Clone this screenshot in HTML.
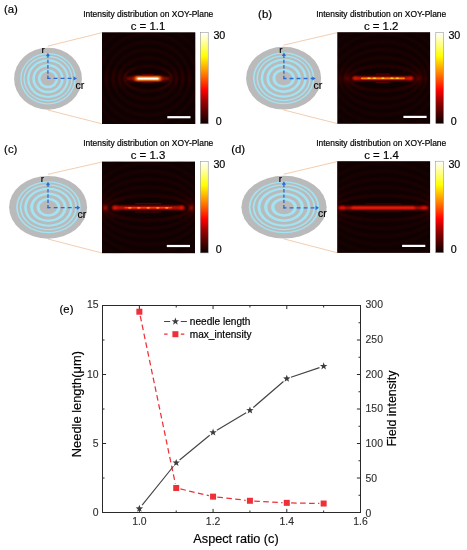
<!DOCTYPE html>
<html><head><meta charset="utf-8"><title>Figure</title>
<style>
html,body{margin:0;padding:0;background:#fff;}
body{width:467px;height:550px;overflow:hidden;}
svg{display:block;}
text{font-family:"Liberation Sans",sans-serif;fill:#000;stroke:#000;stroke-width:0.18px;}
text.tl{fill:#2e2e2e;stroke:#2e2e2e;stroke-width:0.12px;}
</style></head><body>
<svg width="467" height="550" viewBox="0 0 467 550">
<defs>
<linearGradient id="hot" x1="0" y1="1" x2="0" y2="0">
<stop offset="0" stop-color="#0a0000"/>
<stop offset="0.12" stop-color="#500000"/>
<stop offset="0.25" stop-color="#a00000"/>
<stop offset="0.37" stop-color="#ff0000"/>
<stop offset="0.55" stop-color="#ff8000"/>
<stop offset="0.74" stop-color="#ffff00"/>
<stop offset="0.88" stop-color="#ffff90"/>
<stop offset="1" stop-color="#ffffff"/>
</linearGradient>
<linearGradient id="band" x1="0" y1="0" x2="0" y2="1"><stop offset="0" stop-color="#000"/><stop offset="0.5" stop-color="#fff"/><stop offset="1" stop-color="#000"/></linearGradient>
<filter id="b1" x="-20%" y="-20%" width="140%" height="140%"><feGaussianBlur stdDeviation="0.8"/></filter>
<filter id="b2" x="-50%" y="-300%" width="200%" height="700%"><feGaussianBlur stdDeviation="1.6"/></filter>
<filter id="b3" x="-50%" y="-300%" width="200%" height="700%"><feGaussianBlur stdDeviation="0.7"/></filter>
<filter id="b4" x="-50%" y="-300%" width="200%" height="700%"><feGaussianBlur stdDeviation="0.9"/></filter>
<filter id="b05"><feGaussianBlur stdDeviation="0.45"/></filter>
</defs>
<rect width="467" height="550" fill="#fff"/>

<g id="panel0">
<text x="3.9" y="13.4" font-size="11.4">(a)</text>
<text x="148.25" y="16.7" font-size="8.45" text-anchor="middle" fill="#111">Intensity distribution on XOY-Plane</text>
<text x="148" y="29.9" font-size="11.4" text-anchor="middle">c = 1.1</text>
<line x1="47.8" y1="46.1" x2="102.0" y2="32.699999999999996" stroke="#f0c09a" stroke-width="0.8"/>
<line x1="47.8" y1="110.0" x2="102.0" y2="123.8" stroke="#f0c09a" stroke-width="0.8"/>
<g filter="url(#b05)"><ellipse cx="48.0" cy="78.7" rx="33.9" ry="31.0" fill="#bababa"/><ellipse cx="48.0" cy="78.7" rx="27.80" ry="25.80" fill="#a2e3f4"/><ellipse cx="48.0" cy="78.7" rx="26.41" ry="24.51" fill="#bababa"/><ellipse cx="48.0" cy="78.7" rx="24.60" ry="22.83" fill="#a2e3f4"/><ellipse cx="48.0" cy="78.7" rx="23.21" ry="21.54" fill="#bababa"/><ellipse cx="48.0" cy="78.7" rx="20.91" ry="19.40" fill="#a2e3f4"/><ellipse cx="48.0" cy="78.7" rx="18.57" ry="17.23" fill="#bababa"/><ellipse cx="48.0" cy="78.7" rx="15.71" ry="14.58" fill="#a2e3f4"/><ellipse cx="48.0" cy="78.7" rx="13.07" ry="12.13" fill="#bababa"/><ellipse cx="48.0" cy="78.7" rx="10.20" ry="9.47" fill="#a2e3f4"/><ellipse cx="48.0" cy="78.7" rx="7.51" ry="6.97" fill="#bababa"/></g>
<line x1="47.9" y1="79.0" x2="47.9" y2="55.3" stroke="#2b6ad2" stroke-width="1.3" stroke-dasharray="3.4 1.9"/><path d="M47.9 52.8 l-2.1 3.4 h4.2z" fill="#2b6ad2"/><line x1="47.3" y1="78.4" x2="74.4" y2="78.4" stroke="#2b6ad2" stroke-width="1.3" stroke-dasharray="3.9 3.1" stroke-dashoffset="0.7"/><path d="M76.9 78.4 l-3.4 -2.1 v4.2z" fill="#2b6ad2"/>
<text x="41.4" y="53.0" font-size="9.8">r</text>
<text x="75.5" y="88.5" font-size="10.5">cr</text>
<clipPath id="cp0"><rect x="102.0" y="32.3" width="93.30000000000001" height="91.7"/></clipPath><rect x="102.0" y="32.3" width="93.30000000000001" height="91.7" fill="#0f0101"/><g clip-path="url(#cp0)"><g filter="url(#b1)" fill="none" stroke="#4a0a08"><ellipse cx="148.0" cy="78.6" rx="23.6" ry="12.6" stroke-width="2.6" stroke-opacity="0.36"/><ellipse cx="148.0" cy="78.6" rx="28.7" ry="20.6" stroke-width="2.6" stroke-opacity="0.32"/><ellipse cx="148.0" cy="78.6" rx="35.0" ry="28.7" stroke-width="2.6" stroke-opacity="0.29"/><ellipse cx="148.0" cy="78.6" rx="41.8" ry="36.7" stroke-width="2.6" stroke-opacity="0.25"/><ellipse cx="148.0" cy="78.6" rx="49.1" ry="44.8" stroke-width="2.6" stroke-opacity="0.22"/><ellipse cx="148.0" cy="78.6" rx="56.5" ry="52.8" stroke-width="2.6" stroke-opacity="0.18"/><ellipse cx="148.0" cy="78.6" rx="64.0" ry="60.8" stroke-width="2.6" stroke-opacity="0.14"/></g><mask id="mk0" maskUnits="userSpaceOnUse" x="102.0" y="32.3" width="93.30000000000001" height="91.7"><rect x="102.0" y="64.6" width="93.30000000000001" height="28" fill="url(#band)"/></mask><g mask="url(#mk0)"><g filter="url(#b1)" fill="none" stroke="#7a100a"><ellipse cx="148.0" cy="78.6" rx="23.6" ry="12.6" stroke-width="2.6" stroke-opacity="0.36"/><ellipse cx="148.0" cy="78.6" rx="28.7" ry="20.6" stroke-width="2.6" stroke-opacity="0.32"/><ellipse cx="148.0" cy="78.6" rx="35.0" ry="28.7" stroke-width="2.6" stroke-opacity="0.29"/><ellipse cx="148.0" cy="78.6" rx="41.8" ry="36.7" stroke-width="2.6" stroke-opacity="0.25"/><ellipse cx="148.0" cy="78.6" rx="49.1" ry="44.8" stroke-width="2.6" stroke-opacity="0.22"/><ellipse cx="148.0" cy="78.6" rx="56.5" ry="52.8" stroke-width="2.6" stroke-opacity="0.18"/><ellipse cx="148.0" cy="78.6" rx="64.0" ry="60.8" stroke-width="2.6" stroke-opacity="0.14"/></g></g><rect x="126.0" y="76.90" width="44.0" height="3.4" rx="1.7" fill="#900800" fill-opacity="0.95" filter="url(#b2)"/><rect x="132.0" y="76.10" width="32.0" height="5.0" rx="2.5" fill="#a01000" fill-opacity="0.9" filter="url(#b2)"/><path d="M142.0 74.39999999999999 H154.0 M142.0 82.8 H154.0" stroke="#6a0804" stroke-opacity="0.7" stroke-width="1.1" fill="none" filter="url(#b3)"/><rect x="134.6" y="76.70" width="26.8" height="3.8" rx="1.9" fill="#ff5000" fill-opacity="1" filter="url(#b4)"/><rect x="136.0" y="77.20" width="24.0" height="2.8" rx="1.4" fill="#ffd840" fill-opacity="1" filter="url(#b4)"/><rect x="137.5" y="77.75" width="21.0" height="1.7" rx="0.85" fill="#ffffee" fill-opacity="1" filter="url(#b3)"/></g><rect x="167.3" y="116.10000000000001" width="23.19999999999999" height="2.2" fill="#fff"/>
<rect x="200.3" y="32.5" width="7.899999999999977" height="91.3" fill="url(#hot)" stroke="#888" stroke-width="0.5"/>
<text x="213.4" y="39.3" font-size="10.7">30</text>
<text x="215.7" y="124.8" font-size="10.7">0</text>
</g>
<g id="panel1">
<text x="258.1" y="17.9" font-size="11.4">(b)</text>
<text x="381.2" y="16.7" font-size="8.45" text-anchor="middle" fill="#111">Intensity distribution on XOY-Plane</text>
<text x="381.2" y="29.9" font-size="11.4" text-anchor="middle">c = 1.2</text>
<line x1="283.40000000000003" y1="45.2" x2="337.3" y2="32.6" stroke="#f0c09a" stroke-width="0.8"/>
<line x1="283.40000000000003" y1="109.89999999999999" x2="337.3" y2="123.6" stroke="#f0c09a" stroke-width="0.8"/>
<g filter="url(#b05)"><ellipse cx="283.6" cy="78.2" rx="37.5" ry="31.4" fill="#bababa"/><ellipse cx="283.7" cy="78.2" rx="30.70" ry="26.00" fill="#a2e3f4"/><ellipse cx="283.7" cy="78.2" rx="29.16" ry="24.70" fill="#bababa"/><ellipse cx="283.7" cy="78.2" rx="27.17" ry="23.01" fill="#a2e3f4"/><ellipse cx="283.7" cy="78.2" rx="25.63" ry="21.71" fill="#bababa"/><ellipse cx="283.7" cy="78.2" rx="23.09" ry="19.55" fill="#a2e3f4"/><ellipse cx="283.7" cy="78.2" rx="20.51" ry="17.37" fill="#bababa"/><ellipse cx="283.7" cy="78.2" rx="17.35" ry="14.69" fill="#a2e3f4"/><ellipse cx="283.7" cy="78.2" rx="14.43" ry="12.22" fill="#bababa"/><ellipse cx="283.7" cy="78.2" rx="11.27" ry="9.54" fill="#a2e3f4"/><ellipse cx="283.7" cy="78.2" rx="8.29" ry="7.02" fill="#bababa"/></g>
<line x1="283.9" y1="79.1" x2="283.9" y2="55.0" stroke="#2b6ad2" stroke-width="1.3" stroke-dasharray="3.4 1.9"/><path d="M283.9 52.5 l-2.1 3.4 h4.2z" fill="#2b6ad2"/><line x1="283.29999999999995" y1="78.5" x2="313.2" y2="78.5" stroke="#2b6ad2" stroke-width="1.3" stroke-dasharray="3.9 3.1" stroke-dashoffset="0.7"/><path d="M315.7 78.5 l-3.4 -2.1 v4.2z" fill="#2b6ad2"/>
<text x="279.2" y="53.2" font-size="9.8">r</text>
<text x="313.4" y="88.8" font-size="10.5">cr</text>
<clipPath id="cp1"><rect x="337.3" y="32.2" width="92.80000000000001" height="91.6"/></clipPath><rect x="337.3" y="32.2" width="92.80000000000001" height="91.6" fill="#0f0101"/><g clip-path="url(#cp1)"><g filter="url(#b1)" fill="none" stroke="#4a0a08"><ellipse cx="382.9" cy="78.3" rx="34.4" ry="12.6" stroke-width="2.6" stroke-opacity="0.38"/><ellipse cx="382.9" cy="78.3" rx="38.1" ry="20.6" stroke-width="2.6" stroke-opacity="0.34"/><ellipse cx="382.9" cy="78.3" rx="43.0" ry="28.7" stroke-width="2.6" stroke-opacity="0.30"/><ellipse cx="382.9" cy="78.3" rx="48.7" ry="36.7" stroke-width="2.6" stroke-opacity="0.27"/><ellipse cx="382.9" cy="78.3" rx="55.1" ry="44.8" stroke-width="2.6" stroke-opacity="0.23"/><ellipse cx="382.9" cy="78.3" rx="61.7" ry="52.8" stroke-width="2.6" stroke-opacity="0.19"/><ellipse cx="382.9" cy="78.3" rx="68.7" ry="60.8" stroke-width="2.6" stroke-opacity="0.15"/></g><mask id="mk1" maskUnits="userSpaceOnUse" x="337.3" y="32.2" width="92.80000000000001" height="91.6"><rect x="337.3" y="64.3" width="92.80000000000001" height="28" fill="url(#band)"/></mask><g mask="url(#mk1)"><g filter="url(#b1)" fill="none" stroke="#7a100a"><ellipse cx="382.9" cy="78.3" rx="34.4" ry="12.6" stroke-width="2.6" stroke-opacity="0.38"/><ellipse cx="382.9" cy="78.3" rx="38.1" ry="20.6" stroke-width="2.6" stroke-opacity="0.34"/><ellipse cx="382.9" cy="78.3" rx="43.0" ry="28.7" stroke-width="2.6" stroke-opacity="0.30"/><ellipse cx="382.9" cy="78.3" rx="48.7" ry="36.7" stroke-width="2.6" stroke-opacity="0.27"/><ellipse cx="382.9" cy="78.3" rx="55.1" ry="44.8" stroke-width="2.6" stroke-opacity="0.23"/><ellipse cx="382.9" cy="78.3" rx="61.7" ry="52.8" stroke-width="2.6" stroke-opacity="0.19"/><ellipse cx="382.9" cy="78.3" rx="68.7" ry="60.8" stroke-width="2.6" stroke-opacity="0.15"/></g></g><ellipse cx="346.9" cy="78.3" rx="2.0" ry="2.4" fill="#7a0600" fill-opacity="0.7" filter="url(#b2)"/><ellipse cx="418.9" cy="78.3" rx="2.0" ry="2.4" fill="#7a0600" fill-opacity="0.7" filter="url(#b2)"/><rect x="351.9" y="76.60" width="62.0" height="3.4" rx="1.7" fill="#8a0700" fill-opacity="0.95" filter="url(#b2)"/><path d="M375.9 74.1 H389.9 M375.9 82.5 H389.9" stroke="#6a0804" stroke-opacity="0.7" stroke-width="1.1" fill="none" filter="url(#b3)"/><ellipse cx="354.9" cy="78.3" rx="2.4" ry="1.7" fill="#d81400" fill-opacity="1" filter="url(#b4)"/><ellipse cx="410.9" cy="78.3" rx="2.4" ry="1.7" fill="#d81400" fill-opacity="1" filter="url(#b4)"/><rect x="354.4" y="77.15" width="57.0" height="2.3" rx="1.15" fill="#e01a00" fill-opacity="1" filter="url(#b4)"/><rect x="360.9" y="77.45" width="44.0" height="1.7" rx="0.85" fill="#ff7800" fill-opacity="1" filter="url(#b3)"/><ellipse cx="368.9" cy="78.3" rx="1.6" ry="0.8" fill="#ffd030" fill-opacity="1" filter="url(#b3)"/><ellipse cx="374.4" cy="78.3" rx="1.6" ry="0.8" fill="#ffd030" fill-opacity="1" filter="url(#b3)"/><ellipse cx="382.9" cy="78.3" rx="1.6" ry="0.8" fill="#ffd030" fill-opacity="1" filter="url(#b3)"/><ellipse cx="391.9" cy="78.3" rx="1.6" ry="0.8" fill="#ffd030" fill-opacity="1" filter="url(#b3)"/><ellipse cx="397.4" cy="78.3" rx="1.6" ry="0.8" fill="#ffd030" fill-opacity="1" filter="url(#b3)"/></g><rect x="403.4" y="115.80000000000001" width="23.200000000000045" height="2.2" fill="#fff"/>
<rect x="435.8" y="32.4" width="7.800000000000011" height="91.19999999999999" fill="url(#hot)" stroke="#888" stroke-width="0.5"/>
<text x="448.4" y="39.199999999999996" font-size="10.7">30</text>
<text x="450.7" y="124.6" font-size="10.7">0</text>
</g>
<g id="panel2">
<text x="4.1" y="153.0" font-size="11.4">(c)</text>
<text x="148.25" y="146" font-size="8.45" text-anchor="middle" fill="#111">Intensity distribution on XOY-Plane</text>
<text x="148" y="158.9" font-size="11.4" text-anchor="middle">c = 1.3</text>
<line x1="47.9" y1="174.3" x2="102.0" y2="162.0" stroke="#f0c09a" stroke-width="0.8"/>
<line x1="47.9" y1="239.00000000000003" x2="102.0" y2="253.0" stroke="#f0c09a" stroke-width="0.8"/>
<g filter="url(#b05)"><ellipse cx="48.1" cy="207.3" rx="39.0" ry="31.4" fill="#bababa"/><ellipse cx="48.4" cy="207.3" rx="32.30" ry="26.00" fill="#a2e3f4"/><ellipse cx="48.4" cy="207.3" rx="30.68" ry="24.70" fill="#bababa"/><ellipse cx="48.4" cy="207.3" rx="28.59" ry="23.01" fill="#a2e3f4"/><ellipse cx="48.4" cy="207.3" rx="26.97" ry="21.71" fill="#bababa"/><ellipse cx="48.4" cy="207.3" rx="24.29" ry="19.55" fill="#a2e3f4"/><ellipse cx="48.4" cy="207.3" rx="21.58" ry="17.37" fill="#bababa"/><ellipse cx="48.4" cy="207.3" rx="18.25" ry="14.69" fill="#a2e3f4"/><ellipse cx="48.4" cy="207.3" rx="15.18" ry="12.22" fill="#bababa"/><ellipse cx="48.4" cy="207.3" rx="11.85" ry="9.54" fill="#a2e3f4"/><ellipse cx="48.4" cy="207.3" rx="8.72" ry="7.02" fill="#bababa"/></g>
<line x1="48.0" y1="208.29999999999998" x2="48.0" y2="184.3" stroke="#2b6ad2" stroke-width="1.3" stroke-dasharray="3.4 1.9"/><path d="M48.0 181.8 l-2.1 3.4 h4.2z" fill="#2b6ad2"/><line x1="47.4" y1="207.7" x2="77.8" y2="207.7" stroke="#2b6ad2" stroke-width="1.3" stroke-dasharray="3.9 3.1" stroke-dashoffset="0.7"/><path d="M80.3 207.7 l-3.4 -2.1 v4.2z" fill="#2b6ad2"/>
<text x="40.7" y="182.3" font-size="9.8">r</text>
<text x="77.6" y="217.8" font-size="10.5">cr</text>
<clipPath id="cp2"><rect x="102.0" y="161.6" width="93.0" height="91.6"/></clipPath><rect x="102.0" y="161.6" width="93.0" height="91.6" fill="#0f0101"/><g clip-path="url(#cp2)"><g filter="url(#b1)" fill="none" stroke="#4a0a08"><ellipse cx="148.3" cy="207.8" rx="41.9" ry="12.6" stroke-width="2.6" stroke-opacity="0.38"/><ellipse cx="148.3" cy="207.8" rx="45.0" ry="20.6" stroke-width="2.6" stroke-opacity="0.34"/><ellipse cx="148.3" cy="207.8" rx="49.2" ry="28.7" stroke-width="2.6" stroke-opacity="0.30"/><ellipse cx="148.3" cy="207.8" rx="54.3" ry="36.7" stroke-width="2.6" stroke-opacity="0.27"/><ellipse cx="148.3" cy="207.8" rx="60.1" ry="44.8" stroke-width="2.6" stroke-opacity="0.23"/><ellipse cx="148.3" cy="207.8" rx="66.2" ry="52.8" stroke-width="2.6" stroke-opacity="0.19"/><ellipse cx="148.3" cy="207.8" rx="72.8" ry="60.8" stroke-width="2.6" stroke-opacity="0.15"/></g><mask id="mk2" maskUnits="userSpaceOnUse" x="102.0" y="161.6" width="93.0" height="91.6"><rect x="102.0" y="193.8" width="93.0" height="28" fill="url(#band)"/></mask><g mask="url(#mk2)"><g filter="url(#b1)" fill="none" stroke="#7a100a"><ellipse cx="148.3" cy="207.8" rx="41.9" ry="12.6" stroke-width="2.6" stroke-opacity="0.38"/><ellipse cx="148.3" cy="207.8" rx="45.0" ry="20.6" stroke-width="2.6" stroke-opacity="0.34"/><ellipse cx="148.3" cy="207.8" rx="49.2" ry="28.7" stroke-width="2.6" stroke-opacity="0.30"/><ellipse cx="148.3" cy="207.8" rx="54.3" ry="36.7" stroke-width="2.6" stroke-opacity="0.27"/><ellipse cx="148.3" cy="207.8" rx="60.1" ry="44.8" stroke-width="2.6" stroke-opacity="0.23"/><ellipse cx="148.3" cy="207.8" rx="66.2" ry="52.8" stroke-width="2.6" stroke-opacity="0.19"/><ellipse cx="148.3" cy="207.8" rx="72.8" ry="60.8" stroke-width="2.6" stroke-opacity="0.15"/></g></g><ellipse cx="105.3" cy="207.8" rx="2.2" ry="2.6" fill="#a80a00" fill-opacity="0.95" filter="url(#b2)"/><ellipse cx="191.3" cy="207.8" rx="2.2" ry="2.6" fill="#a80a00" fill-opacity="0.95" filter="url(#b2)"/><rect x="111.3" y="206.10" width="74.0" height="3.4" rx="1.7" fill="#800600" fill-opacity="0.95" filter="url(#b2)"/><path d="M135.3 203.60000000000002 H161.3 M135.3 212.0 H161.3" stroke="#6a0804" stroke-opacity="0.7" stroke-width="1.1" fill="none" filter="url(#b3)"/><ellipse cx="114.8" cy="207.8" rx="2.6" ry="2.0" fill="#e81600" fill-opacity="1" filter="url(#b4)"/><ellipse cx="181.8" cy="207.8" rx="2.6" ry="2.0" fill="#e81600" fill-opacity="1" filter="url(#b4)"/><rect x="114.3" y="206.55" width="68.0" height="2.5" rx="1.25" fill="#d81200" fill-opacity="1" filter="url(#b4)"/><rect x="124.3" y="207.00" width="48.0" height="1.6" rx="0.8" fill="#f83400" fill-opacity="1" filter="url(#b3)"/><ellipse cx="129.8" cy="207.8" rx="1.8" ry="0.9" fill="#ff8a1c" fill-opacity="1" filter="url(#b3)"/><ellipse cx="138.8" cy="207.8" rx="1.8" ry="0.9" fill="#ff8a1c" fill-opacity="1" filter="url(#b3)"/><ellipse cx="148.3" cy="207.8" rx="1.8" ry="0.9" fill="#ff8a1c" fill-opacity="1" filter="url(#b3)"/><ellipse cx="157.8" cy="207.8" rx="1.8" ry="0.9" fill="#ff8a1c" fill-opacity="1" filter="url(#b3)"/><ellipse cx="166.8" cy="207.8" rx="1.8" ry="0.9" fill="#ff8a1c" fill-opacity="1" filter="url(#b3)"/></g><rect x="166.8" y="244.9" width="23.19999999999999" height="2.2" fill="#fff"/>
<rect x="200.3" y="161.4" width="7.899999999999977" height="91.5" fill="url(#hot)" stroke="#888" stroke-width="0.5"/>
<text x="213.4" y="167.8" font-size="10.7">30</text>
<text x="215.7" y="253.0" font-size="10.7">0</text>
</g>
<g id="panel3">
<text x="231.2" y="153.0" font-size="11.4">(d)</text>
<text x="381.2" y="146" font-size="8.45" text-anchor="middle" fill="#111">Intensity distribution on XOY-Plane</text>
<text x="381.5" y="158.9" font-size="11.4" text-anchor="middle">c = 1.4</text>
<line x1="283.8" y1="174.2" x2="337.2" y2="161.6" stroke="#f0c09a" stroke-width="0.8"/>
<line x1="283.8" y1="238.9" x2="337.2" y2="252.70000000000002" stroke="#f0c09a" stroke-width="0.8"/>
<g filter="url(#b05)"><ellipse cx="284.0" cy="207.2" rx="42.6" ry="31.4" fill="#bababa"/><ellipse cx="284.0" cy="207.2" rx="35.30" ry="26.00" fill="#a2e3f4"/><ellipse cx="284.0" cy="207.2" rx="33.53" ry="24.70" fill="#bababa"/><ellipse cx="284.0" cy="207.2" rx="31.24" ry="23.01" fill="#a2e3f4"/><ellipse cx="284.0" cy="207.2" rx="29.48" ry="21.71" fill="#bababa"/><ellipse cx="284.0" cy="207.2" rx="26.55" ry="19.55" fill="#a2e3f4"/><ellipse cx="284.0" cy="207.2" rx="23.58" ry="17.37" fill="#bababa"/><ellipse cx="284.0" cy="207.2" rx="19.94" ry="14.69" fill="#a2e3f4"/><ellipse cx="284.0" cy="207.2" rx="16.59" ry="12.22" fill="#bababa"/><ellipse cx="284.0" cy="207.2" rx="12.96" ry="9.54" fill="#a2e3f4"/><ellipse cx="284.0" cy="207.2" rx="9.53" ry="7.02" fill="#bababa"/></g>
<line x1="283.9" y1="208.4" x2="283.9" y2="183.8" stroke="#2b6ad2" stroke-width="1.3" stroke-dasharray="3.4 1.9"/><path d="M283.9 181.3 l-2.1 3.4 h4.2z" fill="#2b6ad2"/><line x1="283.29999999999995" y1="207.8" x2="316.5" y2="207.8" stroke="#2b6ad2" stroke-width="1.3" stroke-dasharray="3.9 3.1" stroke-dashoffset="0.7"/><path d="M319 207.8 l-3.4 -2.1 v4.2z" fill="#2b6ad2"/>
<text x="278.7" y="182" font-size="9.8">r</text>
<text x="318" y="216.9" font-size="10.5">cr</text>
<clipPath id="cp3"><rect x="337.2" y="161.2" width="92.90000000000003" height="91.70000000000002"/></clipPath><rect x="337.2" y="161.2" width="92.90000000000003" height="91.70000000000002" fill="#0f0101"/><g clip-path="url(#cp3)"><g filter="url(#b1)" fill="none" stroke="#4a0a08"><ellipse cx="383.2" cy="207.8" rx="49.6" ry="12.6" stroke-width="2.6" stroke-opacity="0.34"/><ellipse cx="383.2" cy="207.8" rx="52.2" ry="20.6" stroke-width="2.6" stroke-opacity="0.31"/><ellipse cx="383.2" cy="207.8" rx="55.9" ry="28.7" stroke-width="2.6" stroke-opacity="0.27"/><ellipse cx="383.2" cy="207.8" rx="60.4" ry="36.7" stroke-width="2.6" stroke-opacity="0.24"/><ellipse cx="383.2" cy="207.8" rx="65.7" ry="44.8" stroke-width="2.6" stroke-opacity="0.20"/><ellipse cx="383.2" cy="207.8" rx="71.4" ry="52.8" stroke-width="2.6" stroke-opacity="0.17"/><ellipse cx="383.2" cy="207.8" rx="77.5" ry="60.8" stroke-width="2.6" stroke-opacity="0.14"/></g><mask id="mk3" maskUnits="userSpaceOnUse" x="337.2" y="161.2" width="92.90000000000003" height="91.70000000000002"><rect x="337.2" y="193.8" width="92.90000000000003" height="28" fill="url(#band)"/></mask><g mask="url(#mk3)"><g filter="url(#b1)" fill="none" stroke="#7a100a"><ellipse cx="383.2" cy="207.8" rx="49.6" ry="12.6" stroke-width="2.6" stroke-opacity="0.34"/><ellipse cx="383.2" cy="207.8" rx="52.2" ry="20.6" stroke-width="2.6" stroke-opacity="0.31"/><ellipse cx="383.2" cy="207.8" rx="55.9" ry="28.7" stroke-width="2.6" stroke-opacity="0.27"/><ellipse cx="383.2" cy="207.8" rx="60.4" ry="36.7" stroke-width="2.6" stroke-opacity="0.24"/><ellipse cx="383.2" cy="207.8" rx="65.7" ry="44.8" stroke-width="2.6" stroke-opacity="0.20"/><ellipse cx="383.2" cy="207.8" rx="71.4" ry="52.8" stroke-width="2.6" stroke-opacity="0.17"/><ellipse cx="383.2" cy="207.8" rx="77.5" ry="60.8" stroke-width="2.6" stroke-opacity="0.14"/></g></g><rect x="336.2" y="206.15" width="94.0" height="3.3" rx="1.65" fill="#780500" fill-opacity="0.95" filter="url(#b2)"/><path d="M365.2 203.8 H401.2 M365.2 211.8 H401.2" stroke="#6a0804" stroke-opacity="0.5" stroke-width="1.1" fill="none" filter="url(#b3)"/><rect x="339.2" y="206.70" width="88.0" height="2.2" rx="1.1" fill="#c00a00" fill-opacity="1" filter="url(#b4)"/><ellipse cx="342.2" cy="207.8" rx="3.5" ry="1.6" fill="#e01000" fill-opacity="1" filter="url(#b4)"/><ellipse cx="424.2" cy="207.8" rx="3.5" ry="1.6" fill="#e01000" fill-opacity="1" filter="url(#b4)"/><rect x="351.2" y="206.70" width="64.0" height="2.2" rx="1.1" fill="#ff200c" fill-opacity="1" filter="url(#b4)"/></g><rect x="402.1" y="244.8" width="23.19999999999999" height="2.2" fill="#fff"/>
<rect x="435.7" y="161.2" width="7.800000000000011" height="91.5" fill="url(#hot)" stroke="#888" stroke-width="0.5"/>
<text x="448.4" y="167.6" font-size="10.7">30</text>
<text x="450.7" y="252.79999999999998" font-size="10.7">0</text>
</g>
<g id="chart">
<text x="59.6" y="313.3" font-size="11.3" fill="#222">(e)</text>
<rect x="102.5" y="305.5" width="258.0" height="207.0" fill="none" stroke="#2a2a2a" stroke-width="1"/>
<path d="M139.36 512.5 v-3.6 M139.36 305.5 v3.6 M176.21 512.5 v-2.0 M176.21 305.5 v2.0 M213.07 512.5 v-3.6 M213.07 305.5 v3.6 M249.93 512.5 v-2.0 M249.93 305.5 v2.0 M286.79 512.5 v-3.6 M286.79 305.5 v3.6 M323.64 512.5 v-2.0 M323.64 305.5 v2.0 M102.5 478.00 h2.0 M102.5 443.50 h3.6 M102.5 409.00 h2.0 M102.5 374.50 h3.6 M102.5 340.00 h2.0 M360.5 495.25 h-2.0 M360.5 478.00 h-3.6 M360.5 460.75 h-2.0 M360.5 443.50 h-3.6 M360.5 426.25 h-2.0 M360.5 409.00 h-3.6 M360.5 391.75 h-2.0 M360.5 374.50 h-3.6 M360.5 357.25 h-2.0 M360.5 340.00 h-3.6 M360.5 322.75 h-2.0" stroke="#2a2a2a" stroke-width="1" fill="none"/>
<text x="139.4" y="525.4" font-size="10.4" text-anchor="middle" class="tl">1.0</text>
<text x="213.1" y="525.4" font-size="10.4" text-anchor="middle" class="tl">1.2</text>
<text x="286.8" y="525.4" font-size="10.4" text-anchor="middle" class="tl">1.4</text>
<text x="360.5" y="525.4" font-size="10.4" text-anchor="middle" class="tl">1.6</text>
<text x="98.5" y="516.2" font-size="10.4" text-anchor="end" class="tl">0</text>
<text x="98.5" y="446.9" font-size="10.4" text-anchor="end" class="tl">5</text>
<text x="98.5" y="377.6" font-size="10.4" text-anchor="end" class="tl">10</text>
<text x="98.5" y="308.3" font-size="10.4" text-anchor="end" class="tl">15</text>
<text x="365.6" y="517.0" font-size="10.4" class="tl">0</text>
<text x="365.6" y="481.6" font-size="10.4" class="tl">50</text>
<text x="365.6" y="446.9" font-size="10.4" class="tl">100</text>
<text x="365.6" y="412.2" font-size="10.4" class="tl">150</text>
<text x="365.6" y="377.6" font-size="10.4" class="tl">200</text>
<text x="365.6" y="342.9" font-size="10.4" class="tl">250</text>
<text x="365.6" y="308.3" font-size="10.4" class="tl">300</text>
<text x="236" y="542.5" font-size="12.7" text-anchor="middle">Aspect ratio (c)</text>
<text transform="translate(80.9,404.1) rotate(-90)" font-size="12.88" text-anchor="middle">Needle length(μm)</text>
<text transform="translate(395.6,408.6) rotate(-90)" font-size="12.45" text-anchor="middle">Field intensity</text>
<path d="M140.24 315.92L175.33 483.80 M180.40 488.98L208.88 495.65 M217.34 497.11L245.66 500.29 M254.22 501.01L282.49 502.60 M291.08 502.92L319.34 503.45" fill="none" stroke="#ee3038" stroke-width="1.25" stroke-dasharray="5.6 3.4"/>
<rect x="136.36" y="308.71" width="6" height="6" fill="#ee3038"/>
<rect x="173.21" y="485.00" width="6" height="6" fill="#ee3038"/>
<rect x="210.07" y="493.63" width="6" height="6" fill="#ee3038"/>
<rect x="246.93" y="497.77" width="6" height="6" fill="#ee3038"/>
<rect x="283.79" y="499.84" width="6" height="6" fill="#ee3038"/>
<rect x="320.64" y="500.53" width="6" height="6" fill="#ee3038"/>
<path d="M142.12 505.21L173.46 466.25 M179.61 460.02L209.68 435.26 M216.85 430.20L246.15 412.64 M253.26 407.51L283.45 381.51 M290.96 377.23L319.47 367.63" fill="none" stroke="#444" stroke-width="1.15"/>
<polygon points="139.36,504.74 140.30,507.34 143.07,507.43 140.88,509.13 141.65,511.79 139.36,510.24 137.06,511.79 137.84,509.13 135.65,507.43 138.42,507.34" fill="#3c3c3c"/>
<polygon points="176.21,458.92 177.15,461.53 179.92,461.61 177.74,463.31 178.51,465.98 176.21,464.42 173.92,465.98 174.69,463.31 172.51,461.61 175.27,461.53" fill="#3c3c3c"/>
<polygon points="213.07,428.56 214.01,431.17 216.78,431.25 214.59,432.95 215.36,435.62 213.07,434.06 210.78,435.62 211.55,432.95 209.36,431.25 212.13,431.17" fill="#3c3c3c"/>
<polygon points="249.93,406.48 250.87,409.09 253.64,409.17 251.45,410.87 252.22,413.54 249.93,411.98 247.64,413.54 248.41,410.87 246.22,409.17 248.99,409.09" fill="#3c3c3c"/>
<polygon points="286.79,374.74 287.73,377.35 290.49,377.43 288.31,379.13 289.08,381.80 286.79,380.24 284.49,381.80 285.26,379.13 283.08,377.43 285.85,377.35" fill="#3c3c3c"/>
<polygon points="323.64,362.32 324.58,364.93 327.35,365.01 325.16,366.71 325.94,369.38 323.64,367.82 321.35,369.38 322.12,366.71 319.93,365.01 322.70,364.93" fill="#3c3c3c"/>
<path d="M164.1 321.5H170.2M180.8 321.5H186.9" stroke="#444" stroke-width="1.15"/>
<polygon points="175.40,317.60 176.34,320.21 179.11,320.29 176.92,321.99 177.69,324.66 175.40,323.10 173.11,324.66 173.88,321.99 171.69,320.29 174.46,320.21" fill="#3c3c3c"/>
<text x="189.8" y="325" font-size="10.1">needle length</text>
<path d="M164.1 334.2H167.6M180.8 334.2H184.3" stroke="#ee3038" stroke-width="1.25"/>
<rect x="172.4" y="331.2" width="6" height="6" fill="#ee3038"/>
<text x="189.8" y="337.8" font-size="10.1">max_intensity</text>
</g>
</svg></body></html>
